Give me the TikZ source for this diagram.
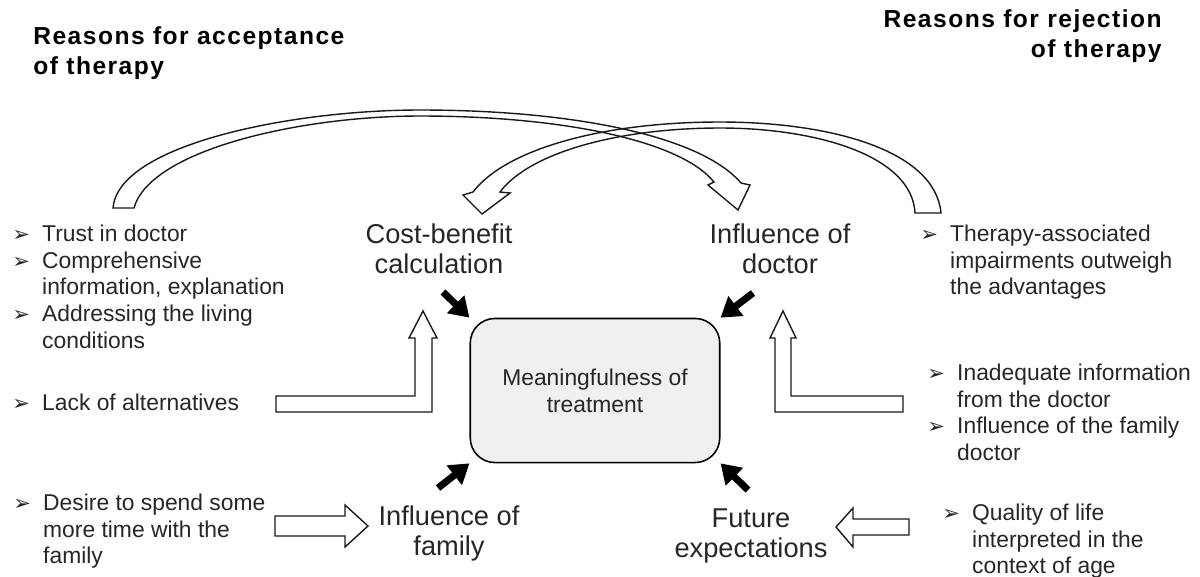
\documentclass[tikz,border=0pt]{standalone}
\usepackage{fontspec}
\setmainfont{Liberation Sans}
\newfontfamily\symfont{DejaVu Sans}
\newfontfamily\headfont[LetterSpace=6]{Liberation Sans}
\usetikzlibrary{arrows.meta}

% bullet and hanging indent for the reason lists
\newcommand\bul{\makebox[17pt][l]{\symfont\fontsize{12}{12}\selectfont\char"27A2}}
\newcommand\ind{\hspace*{17pt}}

\tikzset{
  heading/.style={font=\headfont\bfseries\fontsize{14}{17.5}\selectfont, inner sep=0pt},
  reasons/.style={anchor=north west, align=left, inner sep=0pt, text=black!85,
    font=\fontsize{13}{15.2}\selectfont},
  factor/.style={anchor=north, align=center, inner sep=0pt, text=black!85,
    font=\fontsize{15.5}{17.2}\selectfont},
  hollow/.style={draw=black!90, line width=0.8pt, fill=white, line join=miter},
  ribbon/.style={draw=black!90, line width=0.8pt},
  push/.style={line width=4pt, -{Triangle[length=11pt,width=13.5pt]}},
}

\begin{document}
\begin{tikzpicture}[x=0.02cm, y=-0.02cm]
\useasboundingbox (0,0) rectangle (1200,576);

% centre
\node[draw, line width=0.9pt, fill=black!6, rounded corners=14pt,
  minimum width=142pt, minimum height=82pt, text=black!85, align=center,
  font=\fontsize{13}{15.2}\selectfont] (box) at (595,390.5)
  {Meaningfulness of\\treatment};

% headings
\node[heading, anchor=north west, align=left] (acc) at (33,26)
  {Reasons for acceptance\\of therapy};
\node[heading, anchor=north east, align=right] (rej) at (1162,9)
  {Reasons for rejection\\of therapy};

% the four factors
\node[factor] (cost) at (439,223) {Cost-benefit\\calculation};
\node[factor] (doc) at (780,223) {Influence of\\doctor};
\node[factor] (fam) at (449,505) {Influence of\\family};
\node[factor] (fut) at (751,508) {Future\\expectations};

% reasons, left side
\node[reasons] (trust) at (12,224.5) {\bul Trust in doctor\\\bul Comprehensive\\
  \ind information, explanation\\\bul Addressing the living\\\ind conditions};
\node[reasons] (alt) at (12,393.5) {\bul Lack of alternatives};
\node[reasons] (desire) at (13,493.5) {\bul Desire to spend some\\
  \ind more time with the\\\ind family};

% reasons, right side
\node[reasons] (impair) at (920,224.5) {\bul Therapy-associated\\
  \ind impairments outweigh\\\ind the advantages};
\node[reasons] (inadeq) at (927,363.5) {\bul Inadequate information\\
  \ind from the doctor\\\bul Influence of the family\\\ind doctor};
\node[reasons] (quality) at (942,503.5) {\bul Quality of life\\
  \ind interpreted in the\\\ind context of age};

% black arrows onto the box corners
\coordinate (costtail) at (443,292);
\coordinate (doctail) at (753,293);
\coordinate (famtail) at (438,488);
\coordinate (futtail) at (748,490);
\draw[push] (costtail) -- (box.north west);
\draw[push] (doctail) -- (box.north east);
\draw[push] (famtail) -- (box.south west);
\draw[push] (futtail) -- (box.south east);

% bent block arrows
\draw[hollow] (276,396) -- (415,396) -- (415,338) -- (409,338) -- (423,311)
  -- (437,338) -- (432,338) -- (432,412) -- (276,412) -- cycle;
\draw[hollow] (903,396) -- (791,396) -- (791,338) -- (796,338) -- (783,311)
  -- (770,338) -- (775,338) -- (775,412) -- (903,412) -- cycle;

% straight block arrows
\draw[hollow] (275,516) -- (345,516) -- (345,505) -- (368,526) -- (345,547)
  -- (345,536) -- (275,536) -- cycle;
\draw[hollow] (909,519) -- (853,519) -- (853,508) -- (836,527) -- (853,547)
  -- (853,535) -- (909,535) -- cycle;

% curved block arrows over the top
\draw[ribbon] (113,208) .. controls (118,145) and (290,110) .. (420,110)
  .. controls (570,110) and (700,135) .. (741,183) -- (750,185) -- (738,210)
  -- (708,185) -- (714,182) .. controls (680,140) and (560,116) .. (420,116)
  .. controls (300,116) and (150,150) .. (134,208) -- cycle;
\draw[ribbon] (915,213) -- (941,213) .. controls (935,150) and (830,122) .. (720,122)
  .. controls (600,122) and (505,150) .. (473,192) -- (463,195) -- (482,214)
  -- (510,193) -- (500,192) .. controls (530,152) and (620,128) .. (720,128)
  .. controls (815,128) and (912,155) .. (915,213) -- cycle;
\end{tikzpicture}
\end{document}
